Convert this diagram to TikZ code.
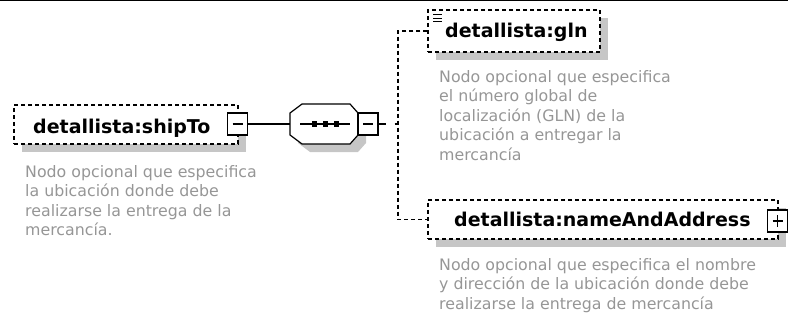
\documentclass[tikz,border=0pt]{standalone}
\usepackage{fontspec}
\setmainfont{DejaVu Sans}
\usetikzlibrary{shadows}
\definecolor{desc}{RGB}{150,150,150}
\definecolor{shadowc}{RGB}{198,198,198}
\tikzset{
  elem/.style={rectangle, draw, line width=1.2pt, dash pattern=on 4pt off 3pt,
    fill=white, inner sep=0pt,
    drop shadow={fill=shadowc, shadow xshift=8pt, shadow yshift=-8pt, opacity=1}},
  title/.style={inner sep=0pt, anchor=base west, font=\fontsize{19}{22}\selectfont\bfseries},
  descr/.style={inner sep=0pt, anchor=north west, align=left, text=desc,
    font=\fontsize{15.8}{19.5}\selectfont},
  pm/.style={rectangle, draw, line width=1.2pt, fill=white, inner sep=0pt,
    minimum width=20pt, minimum height=22pt},
  conn/.style={line width=1.2pt},
  dconn/.style={line width=1.2pt, dash pattern=on 4pt off 3pt},
}
\begin{document}
\begin{tikzpicture}[x=1pt, y=-1pt]
\useasboundingbox (0,0) rectangle (788,321);
\draw[line width=1.5pt] (0,0.75) -- (788,0.75);

% shipTo element
\node[elem, minimum width=224pt, minimum height=39pt] (shipTo) at (126,124.5) {};
\node[title] (shipToT) at (33,134) {detallista:shipTo};
\node[pm] (shipToM) at (237.5,124) {};
\draw[line width=1.2pt] ([xshift=-5pt]shipToM.center) -- ([xshift=5pt]shipToM.center);
\node[descr] (shipToD) at (25,165) {Nodo opcional que especifica\\la ubicación donde debe\\realizarse la entrega de la\\mercancía.};

% sequence compositor
\fill[shadowc] (298,121) -- (310,112) -- (358,112) -- (366,121) -- (366,143) -- (358,152) -- (310,152) -- (298,143) -- cycle;
\draw[line width=1.2pt, fill=white] (290,113) -- (302,104) -- (350,104) -- (358,113) -- (358,135) -- (350,144) -- (302,144) -- (290,135) -- cycle;
\coordinate (seqW) at (290,124);
\draw[line width=1.2pt] (300,124) -- (350,124);
\foreach \cx in {314.5,325.5,336.5} \fill (\cx-2.7,121.3) rectangle (\cx+2.7,126.7);
\node[pm] (seqM) at (368,124) {};
\draw[line width=1.2pt] ([xshift=-5pt]seqM.center) -- ([xshift=5pt]seqM.center);

% gln element
\node[elem, minimum width=172pt, minimum height=42pt] (gln) at (514,31) {};
\node[title] (glnT) at (445,38) {detallista:gln};
\draw[line width=1pt] (433,15) -- (442,15) (433,18.5) -- (442,18.5) (433,22) -- (442,22);
\node[descr] (glnD) at (439,70) {Nodo opcional que especifica\\el número global de\\localización (GLN) de la\\ubicación a entregar la\\mercancía};

% nameAndAddress element
\node[elem, minimum width=350pt, minimum height=39pt] (name) at (603,219.5) {};
\node[title] (nameT) at (454,226) {detallista:nameAndAddress};
\node[pm] (nameP) at (777.5,221) {};
\draw[line width=1.2pt] ([xshift=-5pt]nameP.center) -- ([xshift=5pt]nameP.center)
  ([yshift=-6pt]nameP.center) -- ([yshift=6pt]nameP.center);
\node[descr] (nameD) at (439,258) {Nodo opcional que especifica el nombre\\y dirección de la ubicación donde debe\\realizarse la entrega de mercancía};

% connectors
\coordinate (trunk) at (398,124);
\coordinate (trunkTop) at (398,31);
\coordinate (trunkBot) at (398,219.5);
\draw[conn] (shipToM.east) -- (seqW);
\draw[line width=1.2pt, dash pattern=on 7pt off 9pt] (seqM.east) -- (trunk);
\draw[dconn] (gln.west) -- (trunkTop) -- (trunkBot) -- (name.west);
\end{tikzpicture}
\end{document}
